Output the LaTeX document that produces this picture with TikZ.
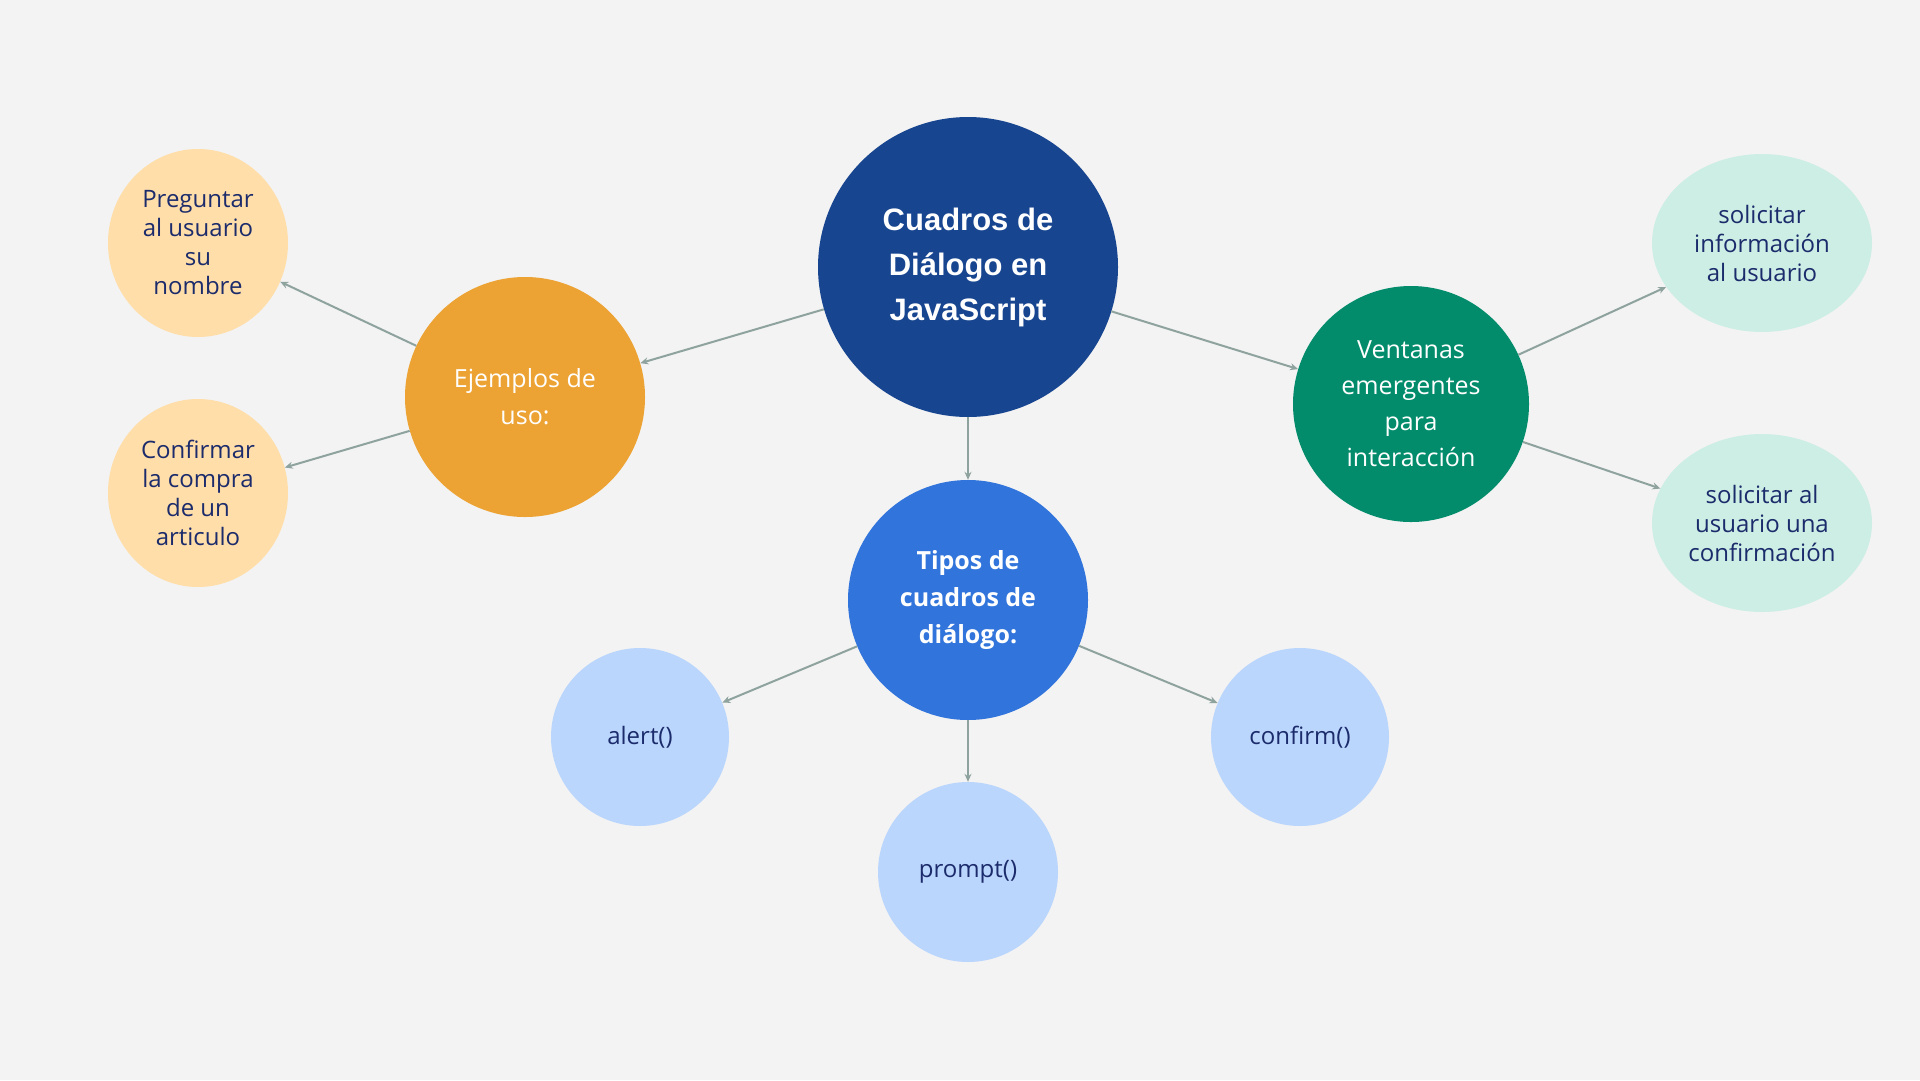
\documentclass[tikz,border=0pt]{standalone}
\usepackage{fontspec}
\setmainfont{Open Sans}
\newfontfamily\titlefont{Liberation Sans}
\usetikzlibrary{shapes.geometric,arrows.meta}
\definecolor{bgc}{HTML}{F3F3F3}
\definecolor{mainc}{HTML}{17458F}
\definecolor{orangec}{HTML}{ECA334}
\definecolor{lorangec}{HTML}{FFDEA9}
\definecolor{greenc}{HTML}{038C6C}
\definecolor{mintc}{HTML}{CDEEE4}
\definecolor{bluec}{HTML}{3174DB}
\definecolor{lbluec}{HTML}{BBD6FC}
\definecolor{linkc}{HTML}{8FA39E}
\definecolor{navyc}{HTML}{1B2B6B}
\begin{document}
\begin{tikzpicture}[x=1pt,y=-1pt,
  conn/.style={draw=linkc, line width=2pt, -{Stealth[length=8pt,width=7pt]}},
  bubble/.style={circle, inner sep=0pt, align=center},
  oval/.style={ellipse, inner sep=0pt, align=center},
  darktxt/.style={text=navyc, font=\fontsize{24}{29}\selectfont},
]
\fill[bgc] (0,0) rectangle (1920,1080);
\useasboundingbox (0,0) rectangle (1920,1080);

\node[bubble, fill=mainc, minimum size=300pt, text=white,
      font=\titlefont\bfseries\fontsize{31}{45}\selectfont] (main) at (968,267)
      {Cuadros de\\Diálogo en\\JavaScript};
\node[bubble, fill=orangec, minimum size=240pt, text=white,
      font=\fontsize{25}{37}\selectfont] (ej) at (525,397) {Ejemplos de\\uso:};
\node[bubble, fill=greenc, minimum size=236pt, text=white,
      font=\fontsize{25}{36}\selectfont] (vent) at (1411,404)
      {Ventanas\\emergentes\\para\\interacción};
\node[bubble, fill=bluec, minimum size=240pt, text=white,
      font=\bfseries\fontsize{25}{37}\selectfont] (tipos) at (968,600)
      {Tipos de\\cuadros de\\diálogo:};

\node[oval, fill=lorangec, minimum width=180pt, minimum height=188pt, darktxt] (preg) at (198,243)
      {Preguntar\\al usuario\\su\\nombre};
\node[oval, fill=lorangec, minimum width=180pt, minimum height=188pt, darktxt] (conf) at (198,493)
      {Confirmar\\la compra\\de un\\articulo};
\node[oval, fill=mintc, minimum width=220pt, minimum height=178pt, darktxt] (sol1) at (1762,243)
      {solicitar\\información\\al usuario};
\node[oval, fill=mintc, minimum width=220pt, minimum height=178pt, darktxt] (sol2) at (1762,523)
      {solicitar al\\usuario una\\confirmación};
\node[bubble, fill=lbluec, minimum size=178pt, darktxt] (alert) at (640,737) {alert()};
\node[bubble, fill=lbluec, minimum size=178pt, darktxt] (confirm) at (1300,737) {confirm()};
\node[bubble, fill=lbluec, minimum size=180pt, darktxt] (prompt) at (968,872) {prompt()};

\draw[conn] (main) -- (ej);
\draw[conn] (main) -- (vent);
\draw[conn] (main) -- (tipos);
\draw[conn] (ej) -- (preg);
\draw[conn] (ej) -- (conf);
\draw[conn] (vent) -- (sol1);
\draw[conn] (vent) -- (sol2);
\draw[conn] (tipos) -- (alert);
\draw[conn] (tipos) -- (prompt);
\draw[conn] (tipos) -- (confirm);
\end{tikzpicture}
\end{document}
